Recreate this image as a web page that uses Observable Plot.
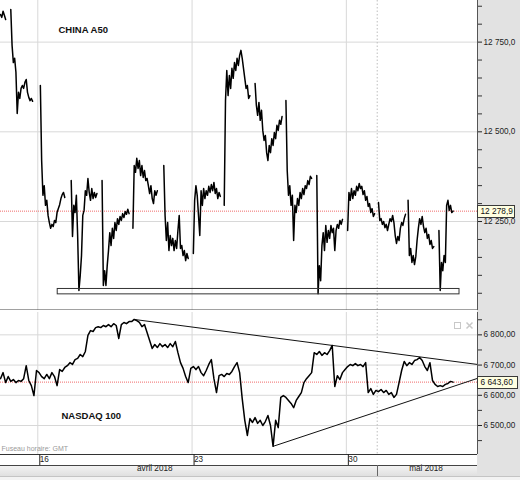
<!DOCTYPE html>
<html><head><meta charset="utf-8">
<script src="https://cdn.jsdelivr.net/npm/d3@7"></script>
<script src="https://cdn.jsdelivr.net/npm/@observablehq/plot@0.6"></script>
<style>
html,body{margin:0;padding:0;background:#fff;}
#chart{position:relative;width:520px;height:480px;overflow:hidden;
  background:linear-gradient(to right,#fff 0,#fff 477px,#e2e2e2 477px,#e2e2e2 520px);}
#chart svg{position:absolute;left:0;}
</style></head>
<body><div id="chart"></div>
<script>
// ---- time axis: trading hours since Mon 16 Apr 2018 00:00 GMT (weekends removed)
const xDomain = [-29, 342];
const weekStarts = [0, 120, 240];
const weekLabels = ["16", "23", "30"];
const monthSplit = [264];                 // 1 mai
const monthLabels = ["avril 2018", "mai 2018"];
const monthCenters = [91, 302];

// ---- CHINA A50 (hourly, one array per session)
const a50Start = [-29, -21, 2, 26, 50, 74, 98, 121, 145, 169, 193, 217, 241, 265, 288, 312];
const a50Sessions = [
  [12827, 12819, 12836, 12825, 12813],
  [12841, 12741, 12693, 12705, 12666, 12551, 12610, 12593, 12621, 12629, 12621, 12638, 12646, 12610, 12596, 12587, 12593, 12585],
  [12629, 12420, 12323, 12350, 12295, 12309, 12267, 12247, 12231, 12242, 12236, 12253, 12247, 12275, 12286, 12297, 12314, 12325, 12331, 12317],
  [12364, 12208, 12295, 12275, 12323, 12211, 12058, 12099, 12155, 12267, 12281, 12336, 12323, 12370, 12331, 12309, 12342, 12314, 12331, 12317, 12328],
  [12364, 12072, 12113, 12072, 12127, 12169, 12219, 12183, 12231, 12203, 12247, 12225, 12258, 12242, 12264, 12253, 12272, 12261, 12278, 12270, 12284, 12272],
  [12231, 12406, 12387, 12426, 12398, 12420, 12378, 12406, 12373, 12392, 12364, 12370, 12350, 12328, 12350, 12314, 12300, 12336, 12323, 12336],
  [12406, 12267, 12197, 12247, 12169, 12211, 12183, 12203, 12169, 12197, 12175, 12225, 12267, 12175, 12183, 12155, 12169, 12141, 12161, 12147],
  [12161, 12309, 12350, 12323, 12267, 12211, 12336, 12295, 12342, 12314, 12336, 12323, 12348, 12331, 12353, 12336, 12359, 12328, 12342, 12314, 12331, 12320],
  [12295, 12587, 12671, 12601, 12657, 12621, 12677, 12649, 12693, 12671, 12705, 12685, 12713, 12727, 12705, 12677, 12649, 12621, 12629, 12593, 12601],
  [12635, 12574, 12546, 12582, 12532, 12560, 12504, 12476, 12490, 12442, 12420, 12462, 12442, 12481, 12462, 12498, 12481, 12518, 12504, 12532, 12521, 12543],
  [12587, 12392, 12323, 12350, 12295, 12323, 12197, 12295, 12275, 12314, 12295, 12331, 12314, 12342, 12325, 12350, 12342, 12364, 12353, 12376, 12370],
  [12378, 12049, 12127, 12085, 12183, 12219, 12169, 12239, 12192, 12225, 12203, 12239, 12219, 12231, 12169, 12225, 12242, 12231, 12253, 12242, 12256],
  [12225, 12331, 12309, 12342, 12314, 12336, 12323, 12348, 12336, 12356, 12342, 12348, 12325, 12336, 12309, 12320, 12292, 12300, 12275, 12286, 12264, 12272],
  [12303, 12253, 12258, 12242, 12250, 12233, 12242, 12225, 12242, 12258, 12250, 12267, 12247, 12211, 12189, 12208, 12197, 12231, 12247, 12239, 12258, 12270],
  [12309, 12155, 12175, 12136, 12155, 12130, 12152, 12197, 12231, 12258, 12242, 12264, 12236, 12219, 12231, 12203, 12214, 12186, 12197, 12175, 12180],
  [12225, 12058, 12136, 12113, 12155, 12136, 12295, 12309, 12281, 12295, 12275, 12278.9]
];
const a50Last = 12278.9;
const a50Domain = [12002, 12866];
const a50Ticks = [12250, 12500, 12750];
const a50Minor = [12050, 12100, 12150, 12200, 12300, 12350, 12400, 12450, 12550, 12600, 12650, 12700, 12800, 12850];
const supportZone = [{h1: 15.5, h2: 328, low: 12047, high: 12062}];

// ---- NASDAQ 100 (every 2 hours from h = -29)
const ndxStart = -29, ndxStep = 2;
const ndxValues = [
  6655, 6675, 6642, 6662, 6646, 6652, 6642, 6649, 6646, 6655,
  6698, 6649, 6632, 6599, 6682, 6675, 6662, 6655, 6669, 6655,
  6675, 6662, 6632, 6685, 6679, 6692, 6698, 6708, 6702, 6718,
  6722, 6735, 6728, 6745, 6798, 6814, 6811, 6824, 6827, 6824,
  6831, 6827, 6834, 6827, 6837, 6831, 6788, 6834, 6841, 6837,
  6844, 6844, 6851, 6847, 6841, 6827, 6834, 6808, 6781, 6755,
  6768, 6758, 6771, 6761, 6768, 6758, 6771, 6761, 6778, 6741,
  6708, 6689, 6662, 6642, 6689, 6695, 6685, 6695, 6675, 6665,
  6682, 6702, 6718, 6655, 6609, 6665, 6669, 6662, 6672, 6669,
  6679, 6695, 6708, 6675, 6589, 6517, 6467, 6523, 6510, 6526,
  6507, 6517, 6500, 6513, 6533, 6500, 6431, 6517, 6493, 6593,
  6599, 6593, 6583, 6573, 6559, 6583, 6596, 6609, 6642, 6655,
  6665, 6675, 6741, 6735, 6745, 6732, 6741, 6735, 6748, 6765,
  6629, 6665, 6652, 6675, 6685, 6695, 6702, 6698, 6705, 6698,
  6702, 6695, 6708, 6609, 6622, 6603, 6616, 6612, 6619, 6609,
  6616, 6603, 6609, 6593, 6603, 6642, 6682, 6712, 6698, 6708,
  6702, 6715, 6718, 6725, 6715, 6695, 6682, 6708, 6649, 6636,
  6629, 6632, 6629, 6636, 6639, 6646, 6643.6
];
const ndxLast = 6643.6;
const ndxDomain = [6404, 6874];
const ndxTicks = [6500, 6600, 6700, 6800];
const ndxMinor = [6450, 6550, 6650, 6750, 6850];
const ndxTrend = [
  {h1: 75, v1: 6851, h2: 342, v2: 6702},
  {h1: 183, v1: 6431, h2: 342, v2: 6656}
];

// ---- helpers
const fr = d3.formatLocale({decimal: ",", thousands: " ", grouping: [3], currency: ["", ""]});
const fmt1 = fr.format(",.1f"), fmt2 = fr.format(",.2f");
const font = "'Liberation Sans', Arial, sans-serif";
const a50Rows = a50Sessions.flatMap((vals, s) => vals.map((v, i) => ({h: a50Start[s] + i, v, s})));
const ndxRows = ndxValues.map((v, i) => ({h: ndxStart + i * ndxStep, v}));
const weekLabel = d => weekLabels[weekStarts.indexOf(d)];

function valueTag(value, label, w) {
  return (index, scales, values, dim) => {
    const y = Math.round(scales.y(value)) + 0.5;
    const x0 = dim.width - dim.marginRight + 0.5;
    const g = d3.create("svg:g");
    g.append("rect").attr("x", x0).attr("y", y - 6).attr("width", w).attr("height", 12)
      .attr("fill", "#ffffe1").attr("stroke", "#3a3a3a");
    g.append("text").attr("x", x0 + 3).attr("y", y).attr("dy", "0.36em").attr("text-anchor", "start")
      .attr("font-size", 8.3).attr("font-family", font).attr("fill", "#111").text(label);
    return g.node();
  };
}

function bottomBack(index, scales, values, dim) {
  const g = d3.create("svg:g");
  const xr = dim.width - dim.marginRight, yb = dim.height - dim.marginBottom;
  const grad = g.append("defs").append("linearGradient").attr("id", "mrow")
    .attr("x1", 0).attr("x2", 0).attr("y1", 0).attr("y2", 1);
  grad.append("stop").attr("offset", "0").attr("stop-color", "#f4f4f4");
  grad.append("stop").attr("offset", "1").attr("stop-color", "#e0e0e0");
  g.append("rect").attr("x", 0).attr("y", yb).attr("width", xr).attr("height", 11).attr("fill", "#fff");
  g.append("rect").attr("x", 0).attr("y", yb + 11).attr("width", xr).attr("height", 11).attr("fill", "url(#mrow)");
  g.append("rect").attr("x", 0).attr("y", yb + 22).attr("width", dim.width).attr("height", dim.height - yb - 22).attr("fill", "#f3f3f3");
  return g.node();
}

function bottomFront(index, scales, values, dim) {
  const g = d3.create("svg:g");
  const xr = dim.width - dim.marginRight, yb = dim.height - dim.marginBottom;
  g.append("line").attr("x1", 0).attr("x2", xr).attr("y1", yb + 0.5).attr("y2", yb + 0.5).attr("stroke", "#333");
  g.append("line").attr("x1", 0).attr("x2", xr).attr("y1", yb + 11.5).attr("y2", yb + 11.5).attr("stroke", "#444");
  g.append("line").attr("x1", 0).attr("x2", dim.width).attr("y1", yb + 22.5).attr("y2", yb + 22.5).attr("stroke", "#c4c4c4");
  for (const m of monthSplit) {
    const x = Math.round(scales.x(m)) + 0.5;
    g.append("line").attr("x1", x).attr("x2", x).attr("y1", yb + 11).attr("y2", yb + 22).attr("stroke", "#666");
  }
  // window icons (top-right of the panel)
  const ix = xr - 22.5, iy = dim.marginTop + 10.5;
  g.append("rect").attr("x", ix).attr("y", iy).attr("width", 6).attr("height", 6).attr("fill", "none").attr("stroke", "#c8c8c8");
  g.append("path").attr("d", `M${ix + 12},${iy}l6,6M${ix + 18},${iy}l-6,6`).attr("stroke", "#c8c8c8").attr("stroke-width", 1.5);
  return g.node();
}

const chart = document.getElementById("chart");

const topPlot = Plot.plot({
  width: 520, height: 310,
  marginTop: 0, marginBottom: 0, marginLeft: 0, marginRight: 43,
  style: {background: "transparent", fontFamily: font},
  x: {domain: xDomain, axis: null},
  y: {domain: a50Domain},
  marks: [
    Plot.gridY(a50Ticks, {stroke: "#d8d8d8", strokeOpacity: 1}),
    Plot.gridX(weekStarts, {stroke: "#d8d8d8", strokeOpacity: 1}),
    Plot.ruleX(monthSplit, {stroke: "#bdbdbd", strokeDasharray: "1.5,2"}),
    Plot.ruleY([a50Last], {stroke: "#f06a6a", strokeDasharray: "1,1"}),
    Plot.line(a50Rows, {x: "h", y: "v", z: "s", stroke: "#000", strokeWidth: 1.5}),
    Plot.rect(supportZone, {x1: "h1", x2: "h2", y1: "low", y2: "high", fill: "none", stroke: "#333"}),
    Plot.text(["CHINA A50"], {text: d => d, frameAnchor: "top-left", dx: 58, dy: 26, textAnchor: "start",
      fontWeight: "bold", fontSize: 9.5, fill: "#111"}),
    Plot.axisY(a50Minor, {anchor: "right", tickSize: 4, tickFormat: () => "", color: "#333"}),
    Plot.axisY(a50Ticks, {anchor: "right", tickSize: 4, tickPadding: 2, tickFormat: fmt1, fontSize: 8.2, color: "#222"}),
    Plot.ruleX([xDomain[1]], {stroke: "#555"}),
    Plot.ruleY([a50Domain[0]], {stroke: "#444", strokeWidth: 2}),
    valueTag(a50Last, fmt1(a50Last), 37)
  ]
});
topPlot.style.top = "0px";
chart.appendChild(topPlot);

const botPlot = Plot.plot({
  width: 520, height: 170,
  marginTop: 2, marginBottom: 26, marginLeft: 0, marginRight: 43,
  style: {background: "transparent", fontFamily: font},
  x: {domain: xDomain},
  y: {domain: ndxDomain},
  marks: [
    bottomBack,
    Plot.gridY(ndxTicks, {stroke: "#d8d8d8", strokeOpacity: 1}),
    Plot.gridX(weekStarts, {stroke: "#d8d8d8", strokeOpacity: 1}),
    Plot.ruleX(monthSplit, {stroke: "#bdbdbd", strokeDasharray: "1.5,2"}),
    Plot.ruleY([ndxLast], {stroke: "#f06a6a", strokeDasharray: "1,1"}),
    Plot.link(ndxTrend, {x1: "h1", y1: "v1", x2: "h2", y2: "v2", stroke: "#111", strokeWidth: 1}),
    Plot.line(ndxRows, {x: "h", y: "v", stroke: "#000", strokeWidth: 1.5}),
    Plot.text(["NASDAQ 100"], {text: d => d, frameAnchor: "bottom-left", dx: 61, dy: -36, textAnchor: "start",
      fontWeight: "bold", fontSize: 9.5, fill: "#111"}),
    Plot.text(["Fuseau horaire: GMT"], {text: d => d, frameAnchor: "bottom-left", dx: 1, dy: -4, textAnchor: "start",
      fontSize: 7, fill: "#9a9a9a"}),
    bottomFront,
    Plot.axisX(weekStarts, {anchor: "bottom", tickSize: 11, tickPadding: -9, tickFormat: weekLabel,
      textAnchor: "start", lineAnchor: "top", dx: 2, fontSize: 8.2, color: "#222"}),
    Plot.text(monthCenters, {x: d => d, text: (d, i) => monthLabels[i], frameAnchor: "bottom", dy: 16.5,
      fontSize: 8.2, fill: "#222"}),
    Plot.axisY(ndxMinor, {anchor: "right", tickSize: 4, tickFormat: () => "", color: "#333"}),
    Plot.axisY(ndxTicks, {anchor: "right", tickSize: 4, tickPadding: 2, tickFormat: fmt2, fontSize: 8.2, color: "#222"}),
    Plot.ruleX([xDomain[1]], {stroke: "#555"}),
    valueTag(ndxLast, fmt2(ndxLast), 40)
  ]
});
botPlot.style.top = "310px";
chart.appendChild(botPlot);
</script>
</body></html>
